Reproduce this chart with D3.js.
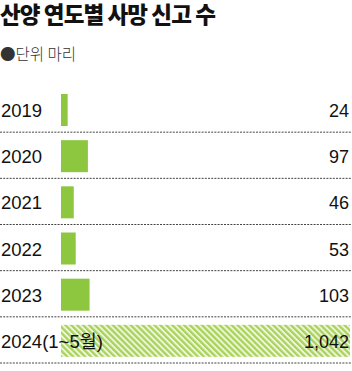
<!DOCTYPE html>
<html>
<head>
<meta charset="utf-8">
<script src="https://cdn.jsdelivr.net/npm/d3@7"></script>
<style>
  body { margin: 0; background: #fff; }
  svg { display: block; }
</style>
</head>
<body>
<svg id="chart"></svg>
<script>
let years = ['2019', '2020', '2021', '2022', '2023', '2024(1~5월)'];
let deaths = [24, 97, 46, 53, 103, 1042];
let partial = [false, false, false, false, false, true];

let width = 352;
let height = 371;

let svg = d3.select('#chart')
    .attr('width', width)
    .attr('height', height);

let defs = svg.append('defs');
let pattern = defs.append('pattern')
    .attr('id', 'hatch')
    .attr('patternUnits', 'userSpaceOnUse')
    .attr('width', 4.2)
    .attr('height', 4.2)
    .attr('patternTransform', 'rotate(-45)');
pattern.append('rect')
    .attr('width', 4.2).attr('height', 4.2)
    .attr('fill', '#eef6dc');
pattern.append('rect')
    .attr('width', 2.3).attr('height', 4.2)
    .attr('fill', '#a9d35a');

// title
svg.append('text')
    .attr('x', 0)
    .attr('y', 23)
    .attr('font-family', '"Noto Sans CJK KR", sans-serif')
    .attr('font-weight', 900)
    .attr('font-size', 22.5)
    .attr('letter-spacing', -0.9)
    .attr('fill', '#111')
    .text('산양 연도별 사망 신고 수');

svg.append('text')
    .attr('x', 0)
    .attr('y', 60)
    .attr('font-family', '"Noto Sans CJK KR", sans-serif')
    .attr('font-weight', 300)
    .attr('font-size', 15.5)
    .attr('fill', '#333')
    .text('●단위 마리');

let yScale = d3.scaleBand()
    .domain(years)
    .range([86, 363])
    .padding(0);

let xScale = d3.scaleLinear()
    .domain([0, 1042])
    .range([61, 350]);

let rows = svg.selectAll('.row')
    .data(years)
    .enter().append('g')
    .attr('class', 'row');

// dashed separators
rows.append('line')
    .attr('x1', 0)
    .attr('x2', width)
    .attr('y1', d => yScale(d) + yScale.bandwidth())
    .attr('y2', d => yScale(d) + yScale.bandwidth())
    .attr('stroke', '#444')
    .attr('stroke-width', 1)
    .attr('stroke-dasharray', '2,1.2');

rows.append('rect')
    .attr('x', xScale(0))
    .attr('y', d => yScale(d) + 8)
    .attr('width', (d, i) => xScale(deaths[i]) - xScale(0))
    .attr('height', 32)
    .attr('fill', (d, i) => partial[i] ? 'url(#hatch)' : '#8dc63f');

rows.append('text')
    .attr('x', 1)
    .attr('y', d => yScale(d) + 31)
    .attr('font-family', '"Liberation Sans", "Noto Sans CJK KR", sans-serif')
    .attr('font-size', 18.5)
    .attr('fill', '#111')
    .text(d => d);

rows.append('text')
    .attr('x', 349)
    .attr('y', d => yScale(d) + 31)
    .attr('text-anchor', 'end')
    .attr('font-family', '"Liberation Sans", sans-serif')
    .attr('font-size', 18)
    .attr('fill', '#111')
    .text((d, i) => d3.format(',')(deaths[i]));
</script>
</body>
</html>
